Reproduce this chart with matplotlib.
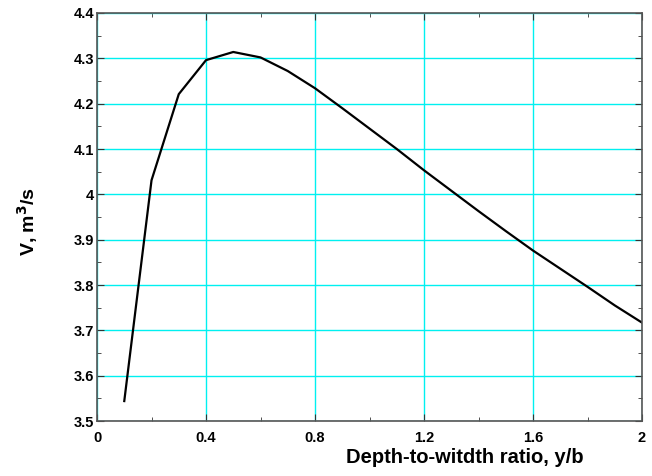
import matplotlib
matplotlib.use("Agg")
import matplotlib.pyplot as plt
from matplotlib.ticker import MultipleLocator, FuncFormatter

ratio = [0.1, 0.2, 0.3, 0.4, 0.5, 0.6, 0.7, 0.8, 0.9, 1.0,
         1.1, 1.2, 1.3, 1.4, 1.5, 1.6, 1.7, 1.8, 1.9, 2.0]
velocity = [3.544, 4.031, 4.221, 4.296, 4.314, 4.302, 4.272, 4.234, 4.190, 4.145,
            4.100, 4.053, 4.008, 3.963, 3.919, 3.876, 3.836, 3.796, 3.755, 3.717]

plt.rcParams['font.family'] = ['Liberation Sans', 'DejaVu Sans']
plt.rcParams['font.weight'] = 'bold'

fig = plt.figure(figsize=(6.52, 4.76), dpi=100)
ax = fig.add_axes([0.1488, 0.1155, 0.8359, 0.8572])
ax.plot(ratio, velocity, color='black', lw=1.6)
ax.set_xlim(0, 2)
ax.set_ylim(3.5, 4.4)
ax.xaxis.set_major_locator(MultipleLocator(0.4))
ax.xaxis.set_minor_locator(MultipleLocator(0.2))
ax.yaxis.set_major_locator(MultipleLocator(0.1))
ax.yaxis.set_minor_locator(MultipleLocator(0.05))
fmt = FuncFormatter(lambda v, p: ('%.2f' % v).rstrip('0').rstrip('.'))
ax.xaxis.set_major_formatter(fmt)
ax.yaxis.set_major_formatter(fmt)
ax.grid(True, which='major', color='#00f0f0', lw=1.0)
ax.tick_params(which='both', direction='in', top=True, right=True, labelsize=10.5,
               colors='#333333', labelcolor='black')
ax.tick_params(which='major', length=5)
ax.tick_params(which='minor', length=3)
ax.tick_params(axis='x', which='major', pad=7)
ax.tick_params(axis='y', which='major', pad=2)
for lab in ax.get_xticklabels() + ax.get_yticklabels():
    lab.set_fontweight('bold')
for s in ax.spines.values():
    s.set_color('#555555')
    s.set_linewidth(1.2)
ax.set_xlabel('Depth-to-witdth ratio, y/b', fontsize=14.5, fontweight='bold')
ax.xaxis.set_label_coords(0.675, -0.066)
ax.set_ylabel('V, m$^\\mathbf{3}$/s', fontsize=14, fontweight='bold')
ax.yaxis.set_label_coords(-0.105, 0.49)
fig.savefig('out.png', dpi=100)
